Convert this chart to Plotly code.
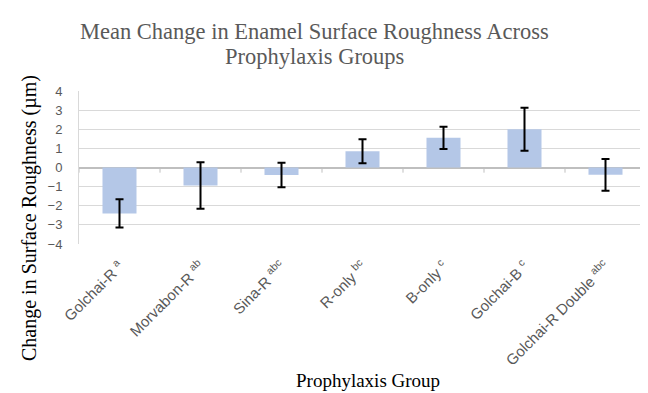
import plotly.graph_objects as go

categories = ["Golchai-R", "Morvabon-R", "Sina-R", "R-only", "B-only", "Golchai-B", "Golchai-R Double"]
letters = ["a", "ab", "abc", "bc", "c", "c", "abc"]
means = [-2.40, -0.94, -0.39, 0.85, 1.55, 2.00, -0.38]
errors = [0.74, 1.22, 0.64, 0.63, 0.58, 1.13, 0.83]
y_ticks = [-4, -3, -2, -1, 0, 1, 2, 3, 4]
title_lines = ["Mean Change in Enamel Surface Roughness Across", "Prophylaxis Groups"]

labels = [f"{c} <sup>{l}</sup>" for c, l in zip(categories, letters)]
xs = list(range(len(categories)))

fig = go.Figure()
fig.add_trace(go.Bar(
    x=xs, y=means, width=0.42,
    marker=dict(color="#B4C7E7", line=dict(width=0)),
    error_y=dict(type="data", array=errors, visible=True, color="black", thickness=2, width=4),
))

# category divider ticks on the zero line
for i in range(len(categories) + 1):
    fig.add_shape(type="line", xref="x", yref="y", x0=i - 0.5, x1=i - 0.5, y0=0, y1=-0.27,
                  line=dict(color="#BFBFBF", width=1))

title_font = dict(family="Liberation Serif", size=22.5, color="#595959")
annotations = [
    dict(text=title_lines[0], xref="paper", yref="paper", x=0.416, y=1.388,
         showarrow=False, xanchor="center", yanchor="middle", font=title_font),
    dict(text=title_lines[1], xref="paper", yref="paper", x=0.416, y=1.224,
         showarrow=False, xanchor="center", yanchor="middle", font=title_font),
    dict(text="Change in Surface Roughness (µm)", xref="paper", yref="paper",
         x=-0.0864, y=0.17, textangle=-90, showarrow=False,
         xanchor="center", yanchor="middle",
         font=dict(family="Liberation Serif", size=20, color="black")),
    dict(text="Prophylaxis Group", xref="paper", yref="paper",
         x=0.51, y=-0.895, showarrow=False, xanchor="center", yanchor="middle",
         font=dict(family="Liberation Serif", size=19, color="black")),
]

fig.update_layout(
    width=640, height=385,
    margin=dict(l=71, r=2, t=83, b=149),
    plot_bgcolor="white", paper_bgcolor="white",
    showlegend=False,
    xaxis=dict(tickmode="array", tickvals=xs, ticktext=labels, tickangle=-45,
               range=[-0.5, len(categories) - 0.5], showgrid=False, zeroline=False,
               showline=False, ticks="", ticklabelstandoff=10,
               tickfont=dict(family="Liberation Sans", size=15, color="#595959")),
    yaxis=dict(tickmode="array", tickvals=y_ticks, range=[-4, 4],
               showgrid=True, gridcolor="#D9D9D9", gridwidth=1,
               zeroline=True, zerolinecolor="#BFBFBF", zerolinewidth=1.5,
               showline=True, linecolor="#D9D9D9", linewidth=1,
               ticks="", ticklabelstandoff=13,
               tickfont=dict(family="Liberation Sans", size=13, color="#595959")),
    annotations=annotations,
)

fig.write_html("out.html")
